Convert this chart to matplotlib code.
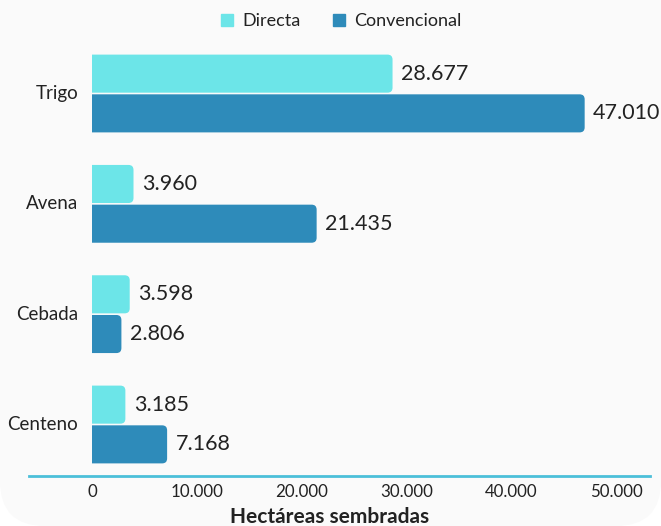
import matplotlib
matplotlib.use("Agg")
import matplotlib.pyplot as plt
from matplotlib.patches import FancyBboxPatch, PathPatch
from matplotlib.path import Path
from matplotlib.lines import Line2D

categories = ["Trigo", "Avena", "Cebada", "Centeno"]
series_names = ["Directa", "Convencional"]
directa = [28677, 3960, 3598, 3185]
convencional = [47010, 21435, 2806, 7168]
xticks = [0, 10000, 20000, 30000, 40000, 50000]
xtick_labels = ["0", "10.000", "20.000", "30.000", "40.000", "50.000"]
xlabel = "Hectáreas sembradas"

c_dir = "#6ce5e8"
c_conv = "#2e8bba"
c_line = "#4bbfd9"
txt = "#222222"

plt.rcParams['font.family'] = ['Lato', 'DejaVu Sans']

W, H = 661, 526
fig = plt.figure(figsize=(W / 100, H / 100), dpi=100)
fig.patch.set_facecolor("white")
bg = FancyBboxPatch((0, 0), W, H + 80, boxstyle="round,pad=0,rounding_size=45",
                    transform=None, facecolor="#fafafa", edgecolor="none", zorder=-10)
fig.patches.append(bg)

left, right, bottom, top = 92, 650, 476, 38
ax = fig.add_axes([left / W, 1 - bottom / H, (right - left) / W, (bottom - top) / H])
ax.set_facecolor("none")
px_per_unit = 524 / 50000
ax.set_xlim(0, (right - left) / px_per_unit)
ax.set_ylim(3 + (476 - 424.5) / 110.33, -(93.5 - 38) / 110.33)

ys = list(range(len(categories)))
h = 0.345
off = 0.18
b1 = ax.barh([y - off for y in ys], directa, height=h, color=c_dir, linewidth=0)
b2 = ax.barh([y + off for y in ys], convencional, height=h, color=c_conv, linewidth=0)

# rounded right ends
r_px = 5
rx = r_px / px_per_unit
ry = r_px / 110.33
for bars in (b1, b2):
    for p in bars:
        x0, y0, w, hh = p.get_x(), p.get_y(), p.get_width(), p.get_height()
        x1, y1 = x0 + w, y0 + hh
        col = p.get_facecolor()
        p.set_visible(False)
        verts = [(x0, y0), (x1 - rx, y0), (x1, y0), (x1, y0 + ry), (x1, y1 - ry),
                 (x1, y1), (x1 - rx, y1), (x0, y1), (x0, y0)]
        codes = [Path.MOVETO, Path.LINETO, Path.CURVE3, Path.CURVE3, Path.LINETO,
                 Path.CURVE3, Path.CURVE3, Path.LINETO, Path.CLOSEPOLY]
        ax.add_patch(PathPatch(Path(verts, codes), facecolor=col, edgecolor="none"))

# value labels
for bars, vals in ((b1, directa), (b2, convencional)):
    for p, v in zip(bars, vals):
        s = f"{v:,}".replace(",", ".")
        ax.annotate(s, (p.get_width(), p.get_y() + p.get_height() / 2),
                    xytext=(6, 0), textcoords="offset points", ha="left", va="center",
                    fontsize=15.5, color=txt)

# category labels
for y, c in zip(ys, categories):
    ax.annotate(c, (0, y), xytext=(-10, 0), textcoords="offset points",
                ha="right", va="center", fontsize=13.5, color=txt)

ax.set_yticks([])
ax.set_xticks(xticks)
ax.set_xticklabels(xtick_labels, fontsize=12.2, color=txt)
ax.tick_params(axis="x", length=0, pad=6)
for s in ax.spines.values():
    s.set_visible(False)

fig.lines.append(Line2D([29 / W, 650 / W], [1 - 476 / H, 1 - 476 / H],
                        transform=fig.transFigure, color=c_line, linewidth=2))

fig.text(330 / W, 1 - 517 / H, xlabel, ha="center", va="center",
         fontsize=15, fontweight="bold", color=txt)

handles = [Line2D([], [], marker="s", linestyle="none", markersize=9, color=c_dir),
           Line2D([], [], marker="s", linestyle="none", markersize=9, color=c_conv)]
fig.legend(handles, series_names, loc="center", bbox_to_anchor=(340 / W, 1 - 21 / H),
           ncol=2, frameon=False, fontsize=13, handletextpad=0.35, columnspacing=1.6,
           handlelength=1.0, labelcolor=txt)

fig.savefig("out.png", dpi=100, facecolor=fig.get_facecolor())
